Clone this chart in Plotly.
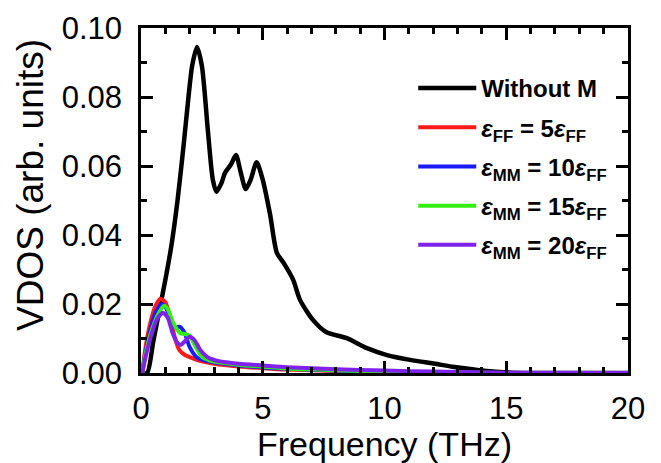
import plotly.graph_objects as go

# ---- data ----
x_without = [0, 0.25, 0.5, 0.75, 1.0, 1.25, 1.5, 1.75, 1.95, 2.1, 2.3, 2.5, 2.75, 2.95, 3.1, 3.3, 3.45,
             3.7, 3.9, 4.1, 4.3, 4.5, 4.75, 5.0, 5.3, 5.58, 5.85, 6.25, 6.53, 7.06, 7.6, 8.45, 9.28,
             10.1, 11.05, 12.15, 12.8, 14.2, 14.9, 16, 18, 20]
y_without = [0, 0, 0.009, 0.018, 0.027, 0.037, 0.050, 0.066, 0.080, 0.089, 0.0945, 0.089, 0.070, 0.056,
             0.0525, 0.055, 0.058, 0.0605, 0.0632, 0.058, 0.0533, 0.056, 0.0611, 0.056, 0.046, 0.0348,
             0.032, 0.027, 0.0212, 0.0154, 0.0119, 0.0101, 0.0072, 0.0052, 0.0038, 0.0026, 0.0018,
             0.0006, 0.0002, 0, 0, 0]

x_ff5 = [0.05, 0.2, 0.4, 0.6, 0.8, 1.0, 1.2, 1.4, 1.57, 1.8, 2.15, 2.5, 3, 4, 5, 6, 8, 10, 12, 15, 20]
y_ff5 = [0, 0.008, 0.015, 0.0195, 0.0215, 0.0205, 0.0160, 0.0100, 0.0067, 0.0052, 0.0042, 0.0034,
         0.0027, 0.0019, 0.0014, 0.0010, 0.0006, 0.0003, 0.0001, 0, 0]

x_mm10 = [0.05, 0.2, 0.4, 0.6, 0.85, 1.0, 1.2, 1.4, 1.6, 1.8, 2.0, 2.3, 2.6, 3, 4, 5, 6, 8, 10, 12, 15, 20]
y_mm10 = [0, 0.0065, 0.013, 0.0175, 0.0200, 0.0192, 0.0160, 0.0133, 0.0134, 0.0115, 0.0075, 0.0045,
          0.0037, 0.0031, 0.0022, 0.0016, 0.0012, 0.0007, 0.0004, 0.0002, 0, 0]

x_mm15 = [0.05, 0.2, 0.4, 0.7, 0.95, 1.1, 1.3, 1.6, 1.8, 2.0, 2.2, 2.5, 2.8, 3.2, 4, 5, 6, 8, 10, 12, 15, 20]
y_mm15 = [0, 0.006, 0.0115, 0.017, 0.0195, 0.0185, 0.0148, 0.0116, 0.0113, 0.0108, 0.0082, 0.0047,
          0.0037, 0.0031, 0.0024, 0.0018, 0.0013, 0.0008, 0.0004, 0.0002, 0, 0]

x_mm20 = [0.05, 0.2, 0.4, 0.65, 0.9, 1.1, 1.3, 1.5, 1.65, 1.8, 2.0, 2.2, 2.45, 2.75, 3.1, 3.5, 4, 5, 6,
          8, 10, 12, 15, 20]
y_mm20 = [0, 0.005, 0.0105, 0.0155, 0.0175, 0.0160, 0.0115, 0.0087, 0.0082, 0.0092, 0.0105, 0.0095,
          0.0065, 0.0045, 0.0036, 0.0031, 0.0027, 0.0022, 0.0017, 0.0011, 0.0007, 0.0004, 0.0001, 0]

names = [
    "<b>Without M</b>",
    "<b><i>ε</i><sub>FF</sub> = 5<i>ε</i><sub>FF</sub></b>",
    "<b><i>ε</i><sub>MM</sub> = 10<i>ε</i><sub>FF</sub></b>",
    "<b><i>ε</i><sub>MM</sub> = 15<i>ε</i><sub>FF</sub></b>",
    "<b><i>ε</i><sub>MM</sub> = 20<i>ε</i><sub>FF</sub></b>",
]
colors = ["#000000", "#ff1a1a", "#1a1aff", "#33ee11", "#7f22ee"]
xs = [x_without, x_ff5, x_mm10, x_mm15, x_mm20]
ys = [y_without, y_ff5, y_mm10, y_mm15, y_mm20]
widths = [4.5, 4, 4, 4, 4]

x_tickvals = [0, 5, 10, 15, 20]
y_tickvals = [0.00, 0.02, 0.04, 0.06, 0.08, 0.10]

fig = go.Figure()
for i in range(5):
    fig.add_trace(go.Scatter(
        x=xs[i], y=ys[i], mode="lines", name=names[i],
        line=dict(color=colors[i], width=widths[i], shape="spline", smoothing=0.7),
        legendgroup=str(i),
    ))

font_family = "Liberation Sans, Arial, sans-serif"
axis_common = dict(
    showline=True, linecolor="black", linewidth=2.5, mirror="allticks",
    ticks="inside", ticklen=12, tickwidth=2.5, tickcolor="black",
    showgrid=False, zeroline=False, automargin=False,
    tickfont=dict(family=font_family, size=31, color="black"),
)

fig.update_xaxes(
    range=[0, 20], tickvals=x_tickvals,
    title=dict(text="Frequency (THz)", font=dict(family=font_family, size=34, color="black"), standoff=0),
    minor=dict(dtick=1, ticks="inside", ticklen=6, tickwidth=2.5, tickcolor="black"),
    ticklabelstandoff=6,
    **axis_common,
)
fig.update_yaxes(
    range=[0, 0.10], tickvals=y_tickvals, tickformat=".2f",
    minor=dict(dtick=0.01, ticks="inside", ticklen=6, tickwidth=2.5, tickcolor="black"),
    ticklabelstandoff=10,
    **axis_common,
)

# y-axis title as a rotated annotation so it can sit slightly above centre, as in the original
fig.add_annotation(
    text="VDOS (arb. units)", xref="paper", yref="paper",
    x=-0.226, y=0.545, xanchor="center", yanchor="middle",
    textangle=-90, showarrow=False, borderpad=0,
    font=dict(family=font_family, size=37, color="black"),
)

# the page body has an 8px margin, so the figure is sized/margined to compensate
fig.update_layout(
    width=653, height=455, autosize=False,
    margin=dict(l=133, r=33, t=20, b=90),
    plot_bgcolor="white", paper_bgcolor="white",
    showlegend=True,
    legend=dict(
        x=0.559, y=0.89, xanchor="left", yanchor="top",
        bgcolor="rgba(0,0,0,0)",
        font=dict(family=font_family, size=24, color="black"),
        tracegroupgap=5, itemwidth=58,
    ),
)

fig.write_html("out.html")
